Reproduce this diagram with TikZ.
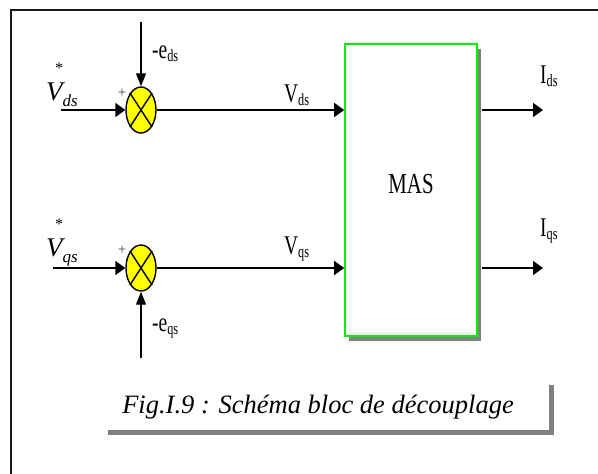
\documentclass[tikz,border=0pt]{standalone}
\usepackage{fontspec}
\usepackage{graphicx}
\setmainfont{Liberation Serif}
\usetikzlibrary{arrows.meta,shapes.geometric,shadows}
\newcommand\cond[1]{\scalebox{0.72}[1]{#1}}
\newcommand\ulab[2]{\cond{\fontsize{27}{27}\selectfont #1\raisebox{-3pt}{\fontsize{17}{17}\selectfont #2}}}
\newcommand\ilab[2]{{\itshape\fontsize{27}{27}\selectfont #1\raisebox{-6pt}{\fontsize{17}{17}\selectfont #2}}}
\definecolor{shgray}{RGB}{128,128,128}
\definecolor{framec}{RGB}{25,25,25}
\definecolor{sumyellow}{RGB}{255,255,0}
\definecolor{boxgreen}{RGB}{0,240,0}
\begin{document}
\begin{tikzpicture}[x=1pt,y=-1pt,
  summer/.style={ellipse, draw=black, line width=1.4pt, fill=sumyellow,
    minimum width=30pt, minimum height=46pt, inner sep=0pt},
  hline/.style={line width=1.6pt, -{Triangle[length=10pt,width=14pt]}},
  vline/.style={line width=1.3pt, -{Triangle[length=13pt,width=10pt]}},
  crossl/.style={line width=1.4pt},
  masbox/.style={rectangle, draw=boxgreen, line width=1.6pt, fill=white,
    minimum width=132pt, minimum height=292pt, inner sep=0pt,
    drop shadow={shadow xshift=4pt, shadow yshift=-5pt, fill=shgray, opacity=1}},
  capbox/.style={rectangle, draw=none, fill=white,
    minimum width=446pt, minimum height=50pt, inner sep=0pt,
    drop shadow={shadow xshift=5pt, shadow yshift=-5pt, fill=shgray, opacity=1}},
  lab/.style={anchor=base west, inner sep=0pt},
  plusl/.style={inner sep=0pt, text=black!75, font=\fontsize{15}{15}\selectfont},
  starl/.style={inner sep=0pt, font=\fontsize{16}{16}\selectfont},
  framel/.style={line width=2.5pt, draw=framec}
]
\useasboundingbox (0,0) rectangle (598,474);
\fill[white] (0,0) rectangle (598,474);

% frame
\draw[framel] (598,10) -- (11,10) -- (11,474);

% caption
\node[capbox] (cap) at (326,405) {};
\node[anchor=base, inner sep=0pt] (captxt) at (318,413)
  {\itshape\fontsize{26.5}{26.5}\selectfont Fig.I.9 : Schéma bloc de découplage};

% machine block
\node[masbox] (mas) at (411,190) {};
\node[anchor=base, inner sep=0pt] (mastxt) at (411,193) {\cond{\fontsize{29}{29}\selectfont MAS}};

% summers
\node[summer] (s1) at (141,110) {};
\node[summer] (s2) at (141,268) {};
\draw[crossl] (s1.57) -- (s1.237) (s1.123) -- (s1.303);
\draw[crossl] (s2.57) -- (s2.237) (s2.123) -- (s2.303);

\coordinate (in1) at (61,110);
\coordinate (top1) at (141,22);
\coordinate (in2) at (53,268);
\coordinate (bot2) at (141,358);
\coordinate (out1) at (543,110);
\coordinate (out2) at (543,268);

% connectors
\draw[hline] (in1) -- (s1.west);
\draw[vline] (top1) -- (s1.north);
\draw[hline] (s1.east) -- (s1.east -| mas.west);
\draw[hline] ([xshift=4pt]s1.east -| mas.east) -- (out1);

\draw[hline] (in2) -- (s2.west);
\draw[vline] (bot2) -- (s2.south);
\draw[hline] (s2.east) -- (s2.east -| mas.west);
\draw[hline] ([xshift=4pt]s2.east -| mas.east) -- (out2);

% labels
\node[lab] (vdsref) at (46,100) {\ilab{V}{ds}};
\node[starl] (star1) at (59,68) {*};
\node[lab] (vqsref) at (46,256) {\ilab{V}{qs}};
\node[starl] (star2) at (59,224) {*};
\node[plusl] (p1) at (122,93) {+};
\node[plusl] (p2) at (122,250) {+};
\node[lab] (eds) at (152,58) {\ulab{-e}{ds}};
\node[lab] (eqs) at (152,331) {\ulab{-e}{qs}};
\node[lab] (vds) at (284,102) {\ulab{V}{ds}};
\node[lab] (vqs) at (284,254) {\ulab{V}{qs}};
\node[lab] (ids) at (540,83) {\ulab{I}{ds}};
\node[lab] (iqs) at (540,236) {\ulab{I}{qs}};
\end{tikzpicture}
\end{document}
